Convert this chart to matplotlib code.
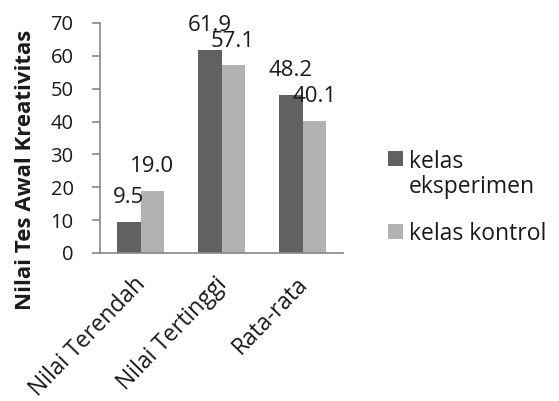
import matplotlib
matplotlib.use("Agg")
import matplotlib.pyplot as plt
from matplotlib.patches import Rectangle
from matplotlib.transforms import ScaledTranslation
import numpy as np

categories = ["Nilai Terendah", "Nilai Tertinggi", "Rata-rata"]
eksperimen = [9.5, 61.9, 48.2]
kontrol = [19.0, 57.1, 40.1]
series_names = ["kelas\neksperimen", "kelas kontrol"]
y_ticks = [0, 10, 20, 30, 40, 50, 60, 70]

plt.rcParams['font.family'] = ['Open Sans', 'DejaVu Sans']

W, H = 559, 401
fig = plt.figure(figsize=(W / 100, H / 100), dpi=100)
ax = fig.add_axes([100 / W, 1 - 253 / H, 243 / W, 230 / H])

x = np.arange(len(categories))
bw = 1 / 3.5
dark = "#616161"
light = "#b2b2b2"
b1 = ax.bar(x - bw / 2, eksperimen, bw, color=dark)
b2 = ax.bar(x + bw / 2, kontrol, bw, color=light)

# value labels above each bar
for bars, vals in ((b1, eksperimen), (b2, kontrol)):
    for rect, v in zip(bars, vals):
        ax.annotate(f"{v:.1f}", (rect.get_x() + rect.get_width() / 2, v),
                    xytext=(0, 13.5), textcoords="offset points",
                    ha="center", va="baseline", fontsize=16, color="#1a1a1a")

ax.set_xlim(-0.5, 2.5)
ax.set_ylim(0, 70)
ax.set_yticks(y_ticks)
ax.set_yticklabels([str(t) for t in y_ticks], fontsize=14.5, color="#1a1a1a")
ax.set_xticks(x)
ax.set_xticklabels(categories, rotation=46, ha="right", va="top", rotation_mode="anchor",
                   fontsize=16.5, color="#1a1a1a")
ax.tick_params(axis="x", length=0, pad=14)
ax.tick_params(axis="y", length=6, width=1.2, color="#868686", pad=13)

shift = ScaledTranslation(-7 / 100, 0, fig.dpi_scale_trans)
for lab in ax.get_xticklabels():
    lab.set_transform(lab.get_transform() + shift)

for s in ("top", "right"):
    ax.spines[s].set_visible(False)
for s in ("left", "bottom"):
    ax.spines[s].set_color("#868686")
    ax.spines[s].set_linewidth(1.2)

ax.set_ylabel("Nilai Tes Awal Kreativitas", fontsize=16, fontweight="bold",
              color="#1a1a1a")
ax.yaxis.set_label_coords(-0.265, 0.361)

# legend: square swatch next to the first line of each entry
def fx(px):
    return px / W

def fy(py):
    return 1 - py / H

entries = ((dark, series_names[0], 167, 193), (light, series_names[1], 240, 240))
for color, label, first_base, last_base in entries:
    fig.patches.append(Rectangle((fx(388), fy(first_base - 1)), 15 / W, 15 / H,
                                 transform=fig.transFigure, facecolor=color,
                                 edgecolor="none"))
    fig.text(fx(409), fy(last_base), label, fontsize=16.5, color="#1a1a1a",
             ha="left", va="baseline", linespacing=1.05)

fig.savefig("out.png", dpi=100)
